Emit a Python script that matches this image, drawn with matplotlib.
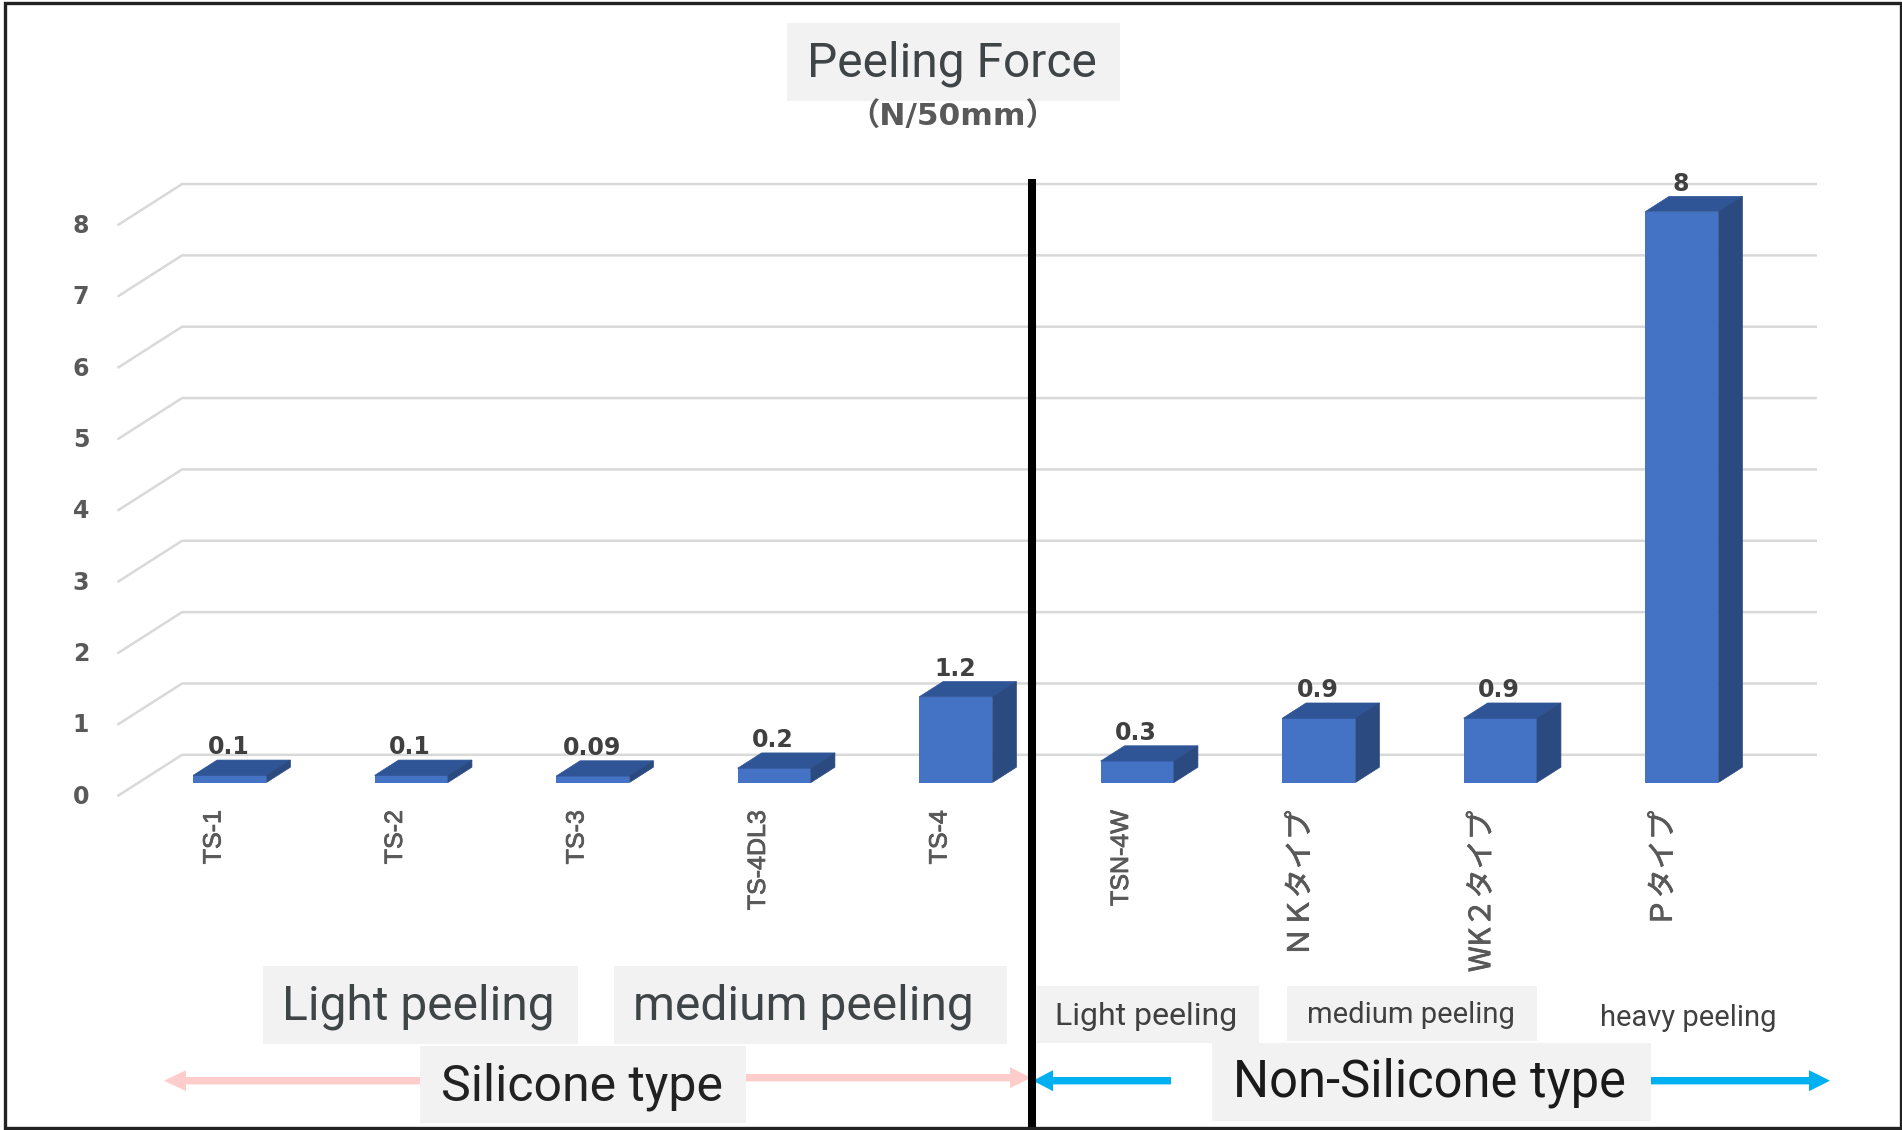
import matplotlib
matplotlib.use('Agg')
import matplotlib.pyplot as plt
from matplotlib.patches import Polygon, Rectangle, FancyArrow
import matplotlib.patheffects as pe

# data
categories = ['TS-1', 'TS-2', 'TS-3', 'TS-4DL3', 'TS-4', 'TSN-4W', 'ＮＫタイプ', 'WK２タイプ', 'Ｐタイプ']
values = [0.1, 0.1, 0.09, 0.2, 1.2, 0.3, 0.9, 0.9, 8]
value_labels = ['0.1', '0.1', '0.09', '0.2', '1.2', '0.3', '0.9', '0.9', '8']
y_ticks = [0, 1, 2, 3, 4, 5, 6, 7, 8]

W, H = 1902, 1130
# where the axes land on the canvas (pixels)
X0, X_STEP = 229.8, 181.5
Y0, Y_STEP = 782.5, 71.35

FRONT = '#4472C4'
TOP = '#2F5597'
SIDE = '#2A4A80'
GRID = '#D9D9D9'
GRAY = '#595959'
DARK = '#404040'
BOX = '#F2F2F2'
PINK = '#FFCCCC'
BLUE = '#00B0F0'

fig = plt.figure(figsize=(W / 100, H / 100), dpi=100, facecolor='white')

ax = fig.add_axes([0, 0, 1, 1])
ax.set_xlim(-X0 / X_STEP, (W - X0) / X_STEP)
ax.set_ylim((Y0 - H) / Y_STEP, Y0 / Y_STEP)
ax.axis('off')

bar_w = 0.404
dx, dy = 0.132, 0.2145        # depth of a bar
floor_x = (-0.613, -0.263)    # floor front and back
floor_y = (-0.181, 0.388)
grid_end = 8.738

for v in y_ticks:
    ax.plot([floor_x[0], floor_x[1], grid_end],
            [v + floor_y[0], v + floor_y[1], v + floor_y[1]],
            color=GRID, lw=1.8, zorder=1)
    ax.text(-0.82, v + floor_y[0] - 0.02, str(v), color=GRAY, fontsize=17, fontweight='bold',
            ha='center', va='center')

# thicken the rotated labels a little, they are smeared in the original
heavy = [pe.withStroke(linewidth=0.6, foreground=GRAY)]

xs = list(range(len(values)))
ax.bar(xs, values, width=bar_w, color=FRONT, zorder=3)
for x, v, lab, cat in zip(xs, values, value_labels, categories):
    l, r = x - bar_w / 2, x + bar_w / 2
    ax.add_patch(Polygon([(l, v), (r, v), (r + dx, v + dy), (l + dx, v + dy)], fc=TOP, ec=TOP, lw=0.5, zorder=3))
    ax.add_patch(Polygon([(r, 0), (r + dx, dy), (r + dx, v + dy), (r, v)], fc=SIDE, ec=SIDE, lw=0.5, zorder=3))
    ax.text(x - 0.006, v + 0.395, lab, color=DARK, fontsize=17, fontweight='bold',
            ha='center', va='center', zorder=4)
    if cat.isascii():
        ax.text(x - 0.09, -0.385, cat, color=GRAY, fontsize=18, rotation=90, ha='center', va='top',
                family=['Liberation Sans'], path_effects=heavy)
    else:
        ax.text(x - 0.10, -0.40, cat, color=GRAY, fontsize=21, rotation=90, ha='center', va='top',
                family=['Noto Sans CJK JP', 'DejaVu Sans'], path_effects=heavy)

# overlay in canvas pixels for the pasted-on notes
ov = fig.add_axes([0, 0, 1, 1])
ov.set_xlim(0, W)
ov.set_ylim(H, 0)
ov.axis('off')
ov.patch.set_alpha(0)


def note(box, text, x, y, size, color):
    if box is not None:
        ov.add_patch(Rectangle((box[0], box[1]), box[2] - box[0], box[3] - box[1], fc=BOX, ec='none', zorder=3))
    ov.text(x, y, text, fontsize=size, color=color, family='Roboto', ha='center', va='baseline', zorder=4)


def arrow(x1, x2, y, color, head_len):
    ov.add_patch(FancyArrow(x1, y, x2 - x1, 0, width=7.4, head_width=21, head_length=head_len,
                            length_includes_head=True, fc=color, ec='none', zorder=2))


arrow(430, 164, 1080.7, PINK, 22)
arrow(735, 1031, 1077.7, PINK, 21)
arrow(1171, 1033, 1080.7, BLUE, 20)
arrow(1640, 1830, 1080.7, BLUE, 21)

note((787, 23, 1120, 100.7), 'Peeling Force', 952, 76.7, 34.5, '#3F4447')
ov.text(952.5, 117, '（N/50mm）', fontsize=22.5, color=GRAY, fontweight='bold', ha='center', va='center',
        family=['DejaVu Sans', 'Noto Sans CJK JP'], zorder=4)

note((263, 966, 578, 1044), 'Light peeling', 418.5, 1020, 34.5, '#3F4447')
note((614, 966, 1007, 1044), 'medium peeling', 803, 1020, 34.5, '#3F4447')
note((420, 1045.6, 745.5, 1123), 'Silicone type', 582, 1100.7, 36, '#222222')

note((1037, 986, 1259, 1043), 'Light peeling', 1146, 1025, 23, '#404040')
note((1287, 986, 1537, 1040.7), 'medium peeling', 1411, 1022.7, 21, '#404040')
note(None, 'heavy peeling', 1688, 1026, 21, '#404040')
note((1212, 1043, 1651, 1120.7), 'Non-Silicone type', 1429.5, 1097, 36.5, '#1A1A1A')

# divider and outer frame
ov.plot([1032, 1032], [179, H], color='black', lw=5.8, solid_capstyle='butt', zorder=5)
ov.add_patch(Rectangle((5, 2.5), 1895.5, 1125.5, fc='none', ec='#222222', lw=2.4, zorder=6))

fig.savefig('out.png', dpi=100)
